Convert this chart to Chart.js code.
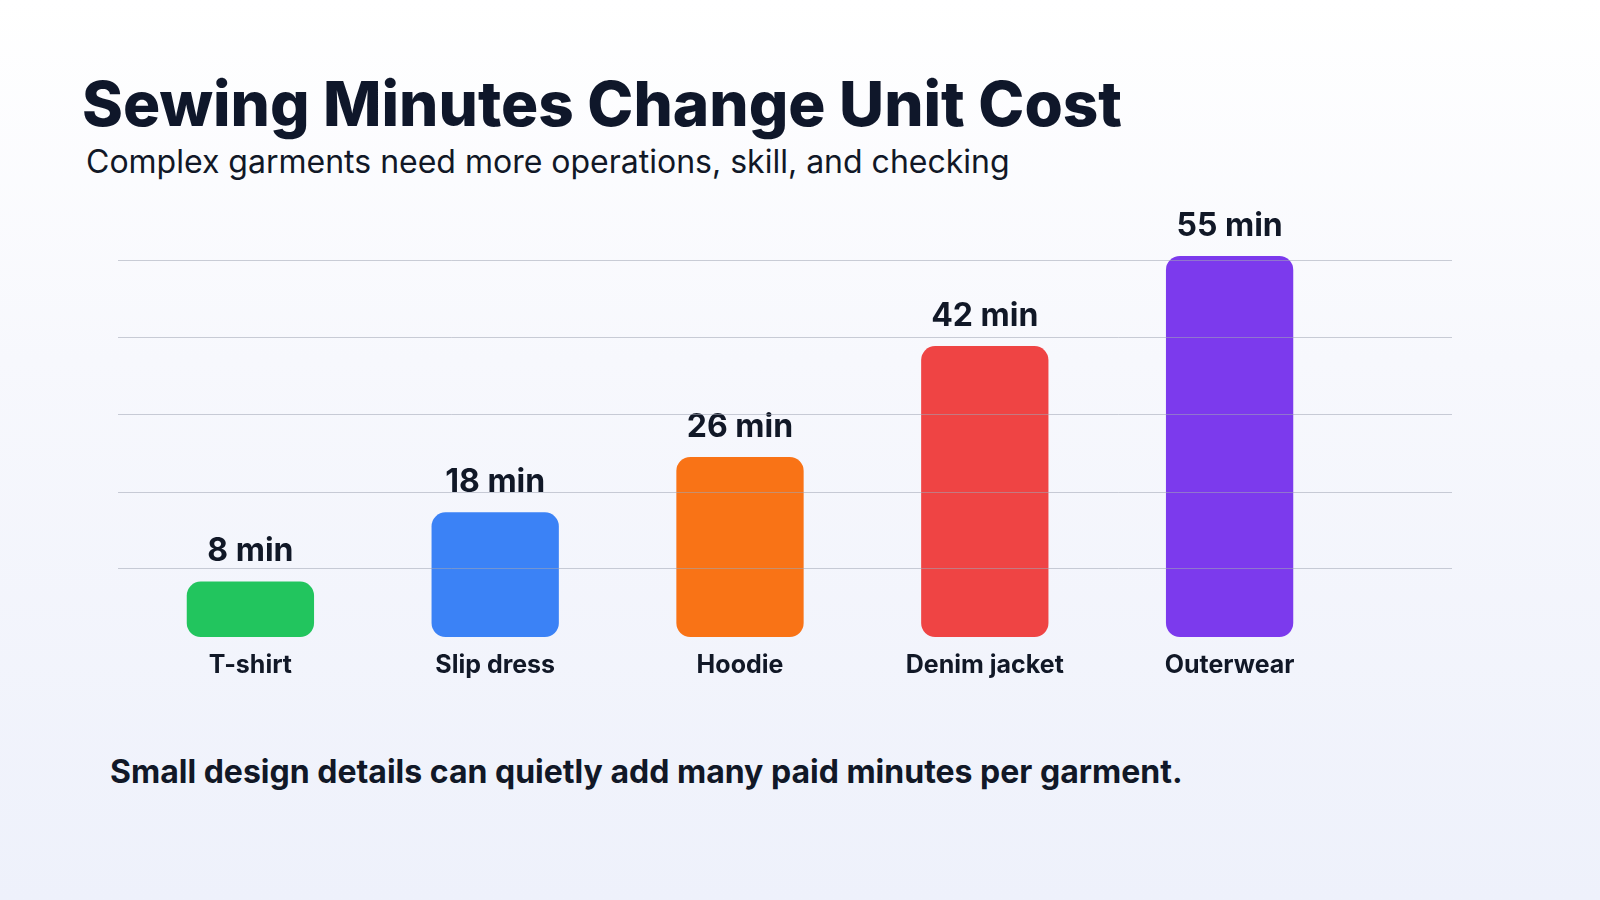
<!DOCTYPE html>
<html><head><meta charset="utf-8">
<script src="https://cdn.jsdelivr.net/npm/chart.js@4"></script>
<style>
html,body{margin:0;width:1600px;height:900px;overflow:hidden;font-family:Inter,"Noto Sans",sans-serif;}
body{background:linear-gradient(180deg,#ffffff 0%,#f7f8fd 40%,#eef1fb 100%);position:relative;}
#t{position:absolute;left:82px;top:66px;font-size:62px;font-weight:800;color:#0f172a;margin:0;letter-spacing:0px}
#s{position:absolute;left:86px;top:142px;font-size:32px;color:#111827}
#f{position:absolute;left:110px;top:752px;font-size:32px;font-weight:700;color:#111827}
#c{position:absolute;left:0;top:0}
</style></head><body>
<div id="t">Sewing Minutes Change Unit Cost</div>
<div id="s">Complex garments need more operations, skill, and checking</div>
<div id="f">Small design details can quietly add many paid minutes per garment.</div>
<canvas id="c" width="1600" height="900"></canvas>
<script>
const categories=["T-shirt","Slip dress","Hoodie","Denim jacket","Outerwear"];
const minutes=[8,18,26,42,55];
const colors=["#22c55e","#3b82f6","#f97316","#ef4444","#7c3aed"];
const gridValues=[9.9,21,32.2,43.3,54.4];
const plug={id:'p',afterDatasetsDraw(ch){
 const c=ch.ctx,y=ch.scales.y,meta=ch.getDatasetMeta(0);
 c.save();c.textAlign='center';c.fillStyle='#111827';
 meta.data.forEach((b,i)=>{
  c.font='700 32px Inter, "Noto Sans", sans-serif';c.textBaseline='bottom';
  c.fillText(minutes[i]+' min',b.x,b.y-14);
  c.font='700 25px Inter, "Noto Sans", sans-serif';c.textBaseline='top';
  c.fillText(categories[i],b.x,y.getPixelForValue(0)+16);
 });
 c.strokeStyle='rgba(160,165,180,0.55)';c.lineWidth=1;
 gridValues.forEach(v=>{const py=Math.round(y.getPixelForValue(v))+0.5;c.beginPath();c.moveTo(118,py);c.lineTo(1452,py);c.stroke();});
 c.restore();}};
new Chart(document.getElementById('c'),{type:'bar',
 data:{labels:categories,datasets:[{data:minutes,backgroundColor:colors,borderRadius:14,borderSkipped:false,barPercentage:0.52,categoryPercentage:1}]},
 options:{responsive:false,animation:false,devicePixelRatio:1,
  layout:{padding:{left:128,right:248,top:256,bottom:263}},
  plugins:{legend:{display:false},tooltip:{enabled:false}},
  scales:{x:{display:false},y:{display:false,min:0,max:55}}},
 plugins:[plug]});
</script></body></html>
